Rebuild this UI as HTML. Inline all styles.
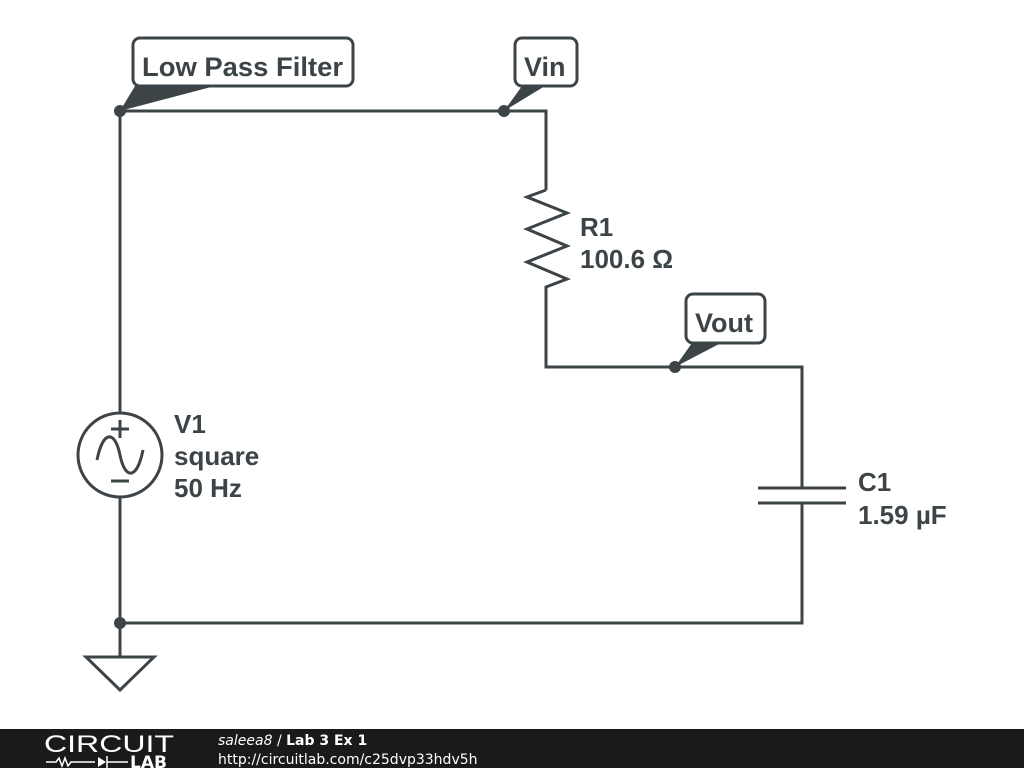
<!DOCTYPE html>
<html><head><meta charset="utf-8"><style>
html,body{margin:0;padding:0;background:#fff;width:1024px;height:768px;overflow:hidden}
svg{display:block}
text{font-family:"Liberation Sans","DejaVu Sans",sans-serif;font-weight:bold;fill:#3d4448}
.f{font-family:"DejaVu Sans","Liberation Sans",sans-serif}
</style></head><body>
<svg width="1024" height="768" viewBox="0 0 1024 768" xmlns="http://www.w3.org/2000/svg">
<g stroke="#3d4448" stroke-width="3" fill="none" stroke-linejoin="miter">
<polyline points="120,413 120,111 546,111 546,190"/>
<polyline points="546,190 527,197 567,213 527,229 567,246 527,262 567,279 546,287 546,367 802,367 802,488"/>
<line x1="758" y1="488" x2="846" y2="488"/>
<line x1="758" y1="503" x2="846" y2="503"/>
<polyline points="802,503 802,623 120,623 120,497"/>
<line x1="120" y1="623" x2="120" y2="657"/>
<polygon points="86,657 154,657 120,690"/>
<circle cx="120" cy="455" r="42"/>
<path d="M97,460 C103,430 115,430 120,455 C125,480 137,480 143,450"/>
<line x1="120" y1="420" x2="120" y2="438"/><line x1="111" y1="429" x2="129" y2="429"/>
<line x1="111" y1="481" x2="129" y2="481"/>
<rect x="133" y="38" width="220" height="48" rx="7" fill="#fff"/>
<rect x="515" y="38" width="62" height="48" rx="7" fill="#fff"/>
<rect x="686" y="294" width="79" height="49" rx="7" fill="#fff"/>
</g>
<g fill="#3d4448">
<polygon points="135,86 215,86 120,111"/>
<polygon points="522,86 545,86 504,111"/>
<polygon points="692,343 721,343 675,367"/>
<circle cx="120" cy="111" r="6"/><circle cx="504" cy="111" r="6"/>
<circle cx="675" cy="367" r="6"/><circle cx="120" cy="623" r="6"/>
</g>
<text x="142" y="76" font-size="27" textLength="201" lengthAdjust="spacingAndGlyphs">Low Pass Filter</text>
<text x="524" y="76" font-size="27">Vin</text>
<text x="695" y="332" font-size="27">Vout</text>
<text x="580" y="236" font-size="26">R1</text>
<text x="580" y="268" font-size="26">100.6 Ω</text>
<text x="174" y="433" font-size="26">V1</text>
<text x="174" y="465" font-size="26">square</text>
<text x="174" y="497" font-size="26">50 Hz</text>
<text x="858" y="491" font-size="26">C1</text>
<text x="858" y="524" font-size="26">1.59 µF</text>
<rect x="0" y="729" width="1024" height="39" fill="#1a1a1a"/>
<text x="44" y="752" font-size="24" textLength="130" lengthAdjust="spacingAndGlyphs" style="font-weight:normal;fill:#fff">CIRCUIT</text>
<polyline points="46,762 56,762 59,758 62,766 65,758 68,766 71,762 95,762" stroke="#fff" stroke-width="1.5" fill="none"/>
<polygon points="98,757 98,767 106,762" fill="#fff"/><line x1="107" y1="756" x2="107" y2="768" stroke="#fff" stroke-width="1.5"/>
<line x1="107" y1="762" x2="128" y2="762" stroke="#fff" stroke-width="1.5"/>
<text x="130" y="768" font-size="17" class="f" style="fill:#fff">LAB</text>
<text x="218" y="745" font-size="14" class="f" style="font-weight:normal;font-style:italic;fill:#fff">saleea8 <tspan font-style="normal">/</tspan> <tspan font-weight="bold" font-style="normal">Lab 3 Ex 1</tspan></text>
<text x="218" y="764" font-size="14" class="f" style="font-weight:normal;fill:#fff">http://circuitlab.com/c25dvp33hdv5h</text>
</svg>
</body></html>
